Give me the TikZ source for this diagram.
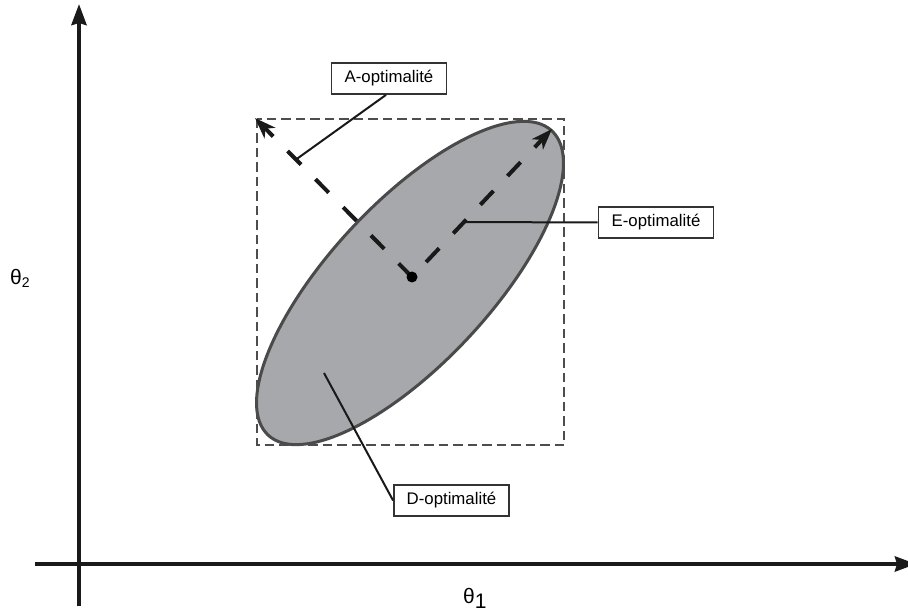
\documentclass[tikz,border=0pt]{standalone}
\usepackage{fontspec}
\setmainfont{Liberation Sans}
\usetikzlibrary{arrows.meta}
\definecolor{ellfill}{HTML}{A7A8AB}
\definecolor{ellline}{HTML}{4A4A4A}
\definecolor{rectline}{HTML}{4D4D4D}
\definecolor{axisline}{HTML}{1A1A1A}
\tikzset{
  axisarrow/.style={line width=4pt, color=axisline, -{Stealth[length=21pt,width=15pt,inset=2pt]}},
  ellstyle/.style={fill=ellfill, draw=ellline, line width=3pt},
  rectstyle/.style={draw=rectline, line width=2.5pt, dash pattern=on 9.5pt off 5pt},
  dasharrow/.style={line width=4pt, color=black!90, dash pattern=on 19pt off 20.5pt, -{Stealth[length=21pt,width=15pt,inset=6pt]}},
  connector/.style={line width=2pt, color=black!90},
  labelbox/.style={draw=black!80, fill=white, line width=1.8pt, minimum width=115pt, minimum height=31pt, inner sep=0pt, font=\fontsize{16.8}{20}\selectfont},
}
\begin{document}
\begin{tikzpicture}[x=1pt,y=1pt]
\useasboundingbox (0,-612) rectangle (908,0);
% key points
\coordinate (c0) at (410,-283);
\coordinate (c) at (412,-277);
\coordinate (atip) at (255,-118);
\coordinate (etip) at (552,-129);
\coordinate (aend) at (296,-159.5);
\coordinate (eend) at (465,-222);
\coordinate (dend) at (324,-373);
\coordinate (ybot) at (79,-606);
\coordinate (ytop) at (79,-4);
\coordinate (xleft) at (35,-564);
\coordinate (xright) at (916,-564);
% ellipse
\draw[ellstyle, rotate around={47:(c0)}] (c0) ellipse [x radius=208, y radius=80];
% dashed rectangle
\draw[rectstyle] (257,-119) rectangle (564,-445);
% A and E dashed arrows
\draw[dasharrow] (c) -- (atip);
\draw[dasharrow, dash phase=19pt] (c) -- (etip);
% center dot
\fill[black] (c) circle (5.5);
% label boxes
\node[labelbox] (A) at (389,-78.5) {A-optimalité};
\node[labelbox] (E) at (656,-222.5) {E-optimalité};
\node[labelbox] (D) at (451.5,-500.5) {D-optimalité};
% connectors
\draw[connector] ([xshift=-3pt]A.south) -- (aend);
\draw[connector] (E.west) -- (eend);
\draw[connector] (D.west) -- (dend);
% axes
\draw[axisarrow] (ybot) -- (ytop);
\draw[axisarrow] (xleft) -- (xright);
% axis labels
\node[anchor=base west, inner sep=0pt] (t2) at (10,-285) {\fontsize{21}{24}\selectfont θ\raisebox{-3pt}{\fontsize{14}{16}\selectfont 2}};
\node[anchor=base west, inner sep=0pt] (t1) at (463,-603) {\fontsize{21}{24}\selectfont θ\raisebox{-5pt}{\fontsize{21}{24}\selectfont 1}};
\end{tikzpicture}
\end{document}
